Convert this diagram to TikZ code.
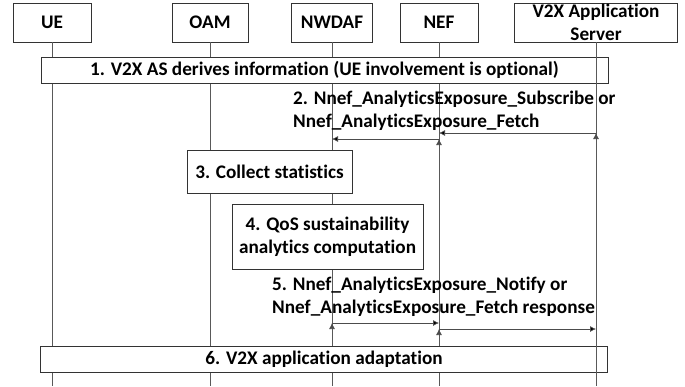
\documentclass[tikz,border=0pt]{standalone}
\usepackage{fontspec}
\setmainfont{Carlito}[Ligatures=NoCommon]
\usetikzlibrary{arrows.meta}
\newcommand{\px}{0.03cm}
\newcommand{\StepFont}{\fontsize{16.4}{19.6}\selectfont\bfseries}

\begin{document}
\begin{tikzpicture}[x=\px,y=-\px,
  actor/.style={draw=black!80,fill=white,inner sep=0pt,minimum height=39*\px,align=center,font=\StepFont},
  stepbox/.style={draw=black!80,fill=white,inner sep=0pt,align=center,font=\StepFont},
  life/.style={draw=black!65,line width=0.7pt},
  msg/.style={draw=black!70,line width=0.6pt,-{Latex[length=6*\px,width=6*\px]}},
  label/.style={inner sep=0pt,align=left,anchor=west,font=\StepFont}]
\useasboundingbox (0,0) rectangle (685,386);

% participants
\node[actor,minimum width=78*\px] (UE) at (52,22.5) {UE};
\node[actor,minimum width=76*\px] (OAM) at (210,22.5) {OAM};
\node[actor,minimum width=81*\px] (NWDAF) at (332,22.5) {NWDAF};
\node[actor,minimum width=78*\px] (NEF) at (439,22.5) {NEF};
\node[actor,minimum width=163*\px] (AS) at (596,22.5) {V2X Application\\Server};

\coordinate (UE-end) at (52,386);
\coordinate (OAM-end) at (210,386);
\coordinate (NWDAF-end) at (332,386);
\coordinate (NEF-end) at (439,386);
\coordinate (AS-end) at (596,386);

\draw[life] (UE) -- (UE-end);
\draw[life] (OAM) -- (OAM-end);
\draw[life] (NWDAF) -- (NWDAF-end);
\draw[life] (NEF) -- (NEF-end);

% steps
\node[stepbox,minimum width=567*\px,minimum height=26*\px] (s1) at (324.5,70)
     {1. V2X AS derives information (UE involvement is optional)};
\node[label] (s2) at (293,110.5)
     {2. Nnef\_AnalyticsExposure\_Subscribe or\\Nnef\_AnalyticsExposure\_Fetch};
\node[stepbox,minimum width=165*\px,minimum height=43*\px] (s3) at (269.5,171.5)
     {3. Collect statistics};
\node[stepbox,minimum width=191*\px,minimum height=65*\px] (s4) at (327.5,236.5)
     {4. QoS sustainability\\analytics computation};
\node[label] (s5) at (272,296.5)
     {5. Nnef\_AnalyticsExposure\_Notify or\\Nnef\_AnalyticsExposure\_Fetch response};
\node[stepbox,minimum width=567*\px,minimum height=26*\px] (s6) at (324,359)
     {6. V2X application adaptation};

\draw[life] (AS) -- (AS-end);

% messages
\coordinate (as-2) at (596,133);
\coordinate (nef-2) at (439,133);
\coordinate (nef-2b) at (439,139);
\coordinate (nwdaf-2) at (332,139);
\coordinate (nwdaf-5) at (332,323);
\coordinate (nef-5) at (439,323);
\coordinate (nef-5b) at (439,329);
\coordinate (as-5) at (596,329);

\path[msg] (as-2) edge (nef-2);
\path[msg] (nef-2b) edge (nwdaf-2);
\path[msg] (nwdaf-5) edge (nef-5);
\path[msg] (nef-5b) edge (as-5);
\end{tikzpicture}
\end{document}
